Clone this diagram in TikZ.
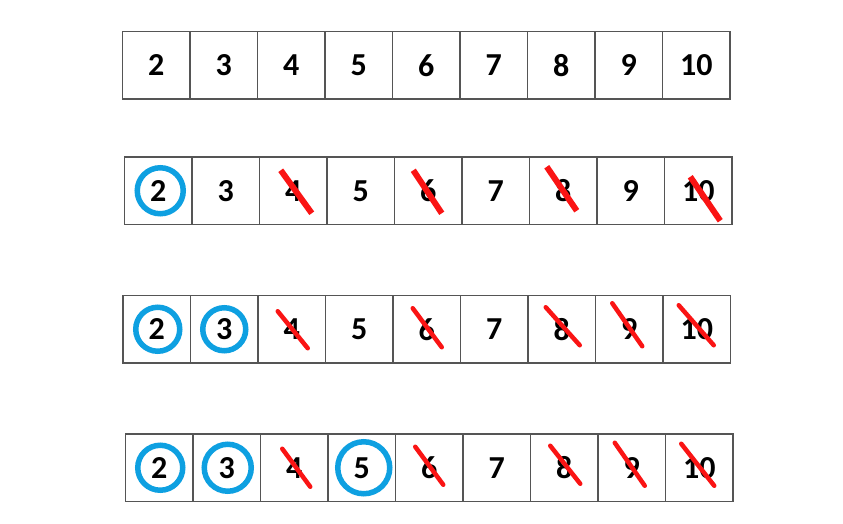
\documentclass[tikz,border=0pt]{standalone}
\usepackage{fontspec}
\setmainfont{Carlito}
\definecolor{ringblue}{RGB}{14,160,225}
\definecolor{strikered}{RGB}{250,20,20}
\definecolor{cellgray}{RGB}{85,85,85}
\tikzset{
  cellbox/.style={draw=cellgray, line width=1.4pt, minimum width=67.5pt, minimum height=67.5pt, inner sep=0pt, font=\fontsize{32}{32}\selectfont\bfseries, text=black},
  ring/.style={draw=ringblue, line width=5.5pt},
  strikeA/.style={draw=strikered, line width=6pt},
  strikeB/.style={draw=strikered, line width=4.5pt, line cap=round}
}
\begin{document}
\begin{tikzpicture}[x=1pt,y=-1pt]
\useasboundingbox (0,0) rectangle (843,523);
\fill[white] (0,0) rectangle (843,523);
% rows: left x, top y
\foreach \r/\lx/\ty in {1/122.5/31.5, 2/124.5/157, 3/123/295.5, 4/125.5/434}{
  \foreach \n [count=\i from 0] in {2,...,10}{
    \node[cellbox] (r\r c\n) at (\lx+33.75+\i*67.5, \ty+33.75) {\n};
  }
}
% rings
\draw[ring] ([xshift=2pt]r2c2.center) circle (23);
\draw[ring] ([xshift=1pt]r3c2.center) circle (22);
\draw[ring] (r3c3.center) circle (21.5);
\draw[ring] ([xshift=1pt]r4c2.center) circle (22.5);
\draw[ring] ([xshift=1pt]r4c3.center) circle (23.5);
\draw[ring] ([xshift=2pt]r4c5.center) circle (26);
% strikes row 2
\draw[strikeA] ([shift={(-12.5,-20.5)}]r2c4.center) -- ([shift={(18.5,22.5)}]r2c4.center);
\draw[strikeA] ([shift={(-15,-20.5)}]r2c6.center) -- ([shift={(13.5,22.5)}]r2c6.center);
\draw[strikeA] ([shift={(-16.5,-24)}]r2c8.center) -- ([shift={(13.5,20)}]r2c8.center);
\draw[strikeA] ([shift={(-8,-14)}]r2c10.center) -- ([shift={(22,30)}]r2c10.center);
% strikes row 3
\draw[strikeB] ([shift={(-14,-18)}]r3c4.center) -- ([shift={(16,19)}]r3c4.center);
\draw[strikeB] ([shift={(-14,-21)}]r3c6.center) -- ([shift={(15,18)}]r3c6.center);
\draw[strikeB] ([shift={(-16,-22)}]r3c8.center) -- ([shift={(18,16)}]r3c8.center);
\draw[strikeB] ([shift={(-17,-26)}]r3c9.center) -- ([shift={(13,17)}]r3c9.center);
\draw[strikeB] ([shift={(-18,-24)}]r3c10.center) -- ([shift={(17,16)}]r3c10.center);
% strikes row 4
\draw[strikeB] ([shift={(-12,-19)}]r4c4.center) -- ([shift={(16,19)}]r4c4.center);
\draw[strikeB] ([shift={(-14,-21)}]r4c6.center) -- ([shift={(14,17)}]r4c6.center);
\draw[strikeB] ([shift={(-14,-22)}]r4c8.center) -- ([shift={(16,16)}]r4c8.center);
\draw[strikeB] ([shift={(-17,-25)}]r4c9.center) -- ([shift={(13,18)}]r4c9.center);
\draw[strikeB] ([shift={(-18,-24)}]r4c10.center) -- ([shift={(15,18)}]r4c10.center);
\end{tikzpicture}
\end{document}
